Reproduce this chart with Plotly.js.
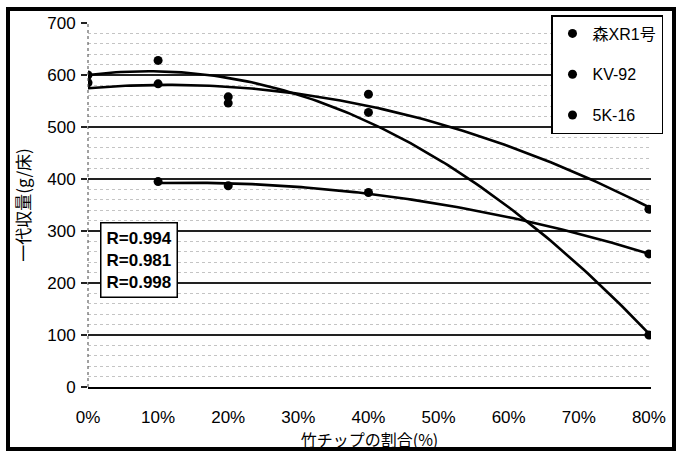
<!DOCTYPE html>
<html>
<head>
<meta charset="utf-8">
<script src="https://cdn.plot.ly/plotly-3.0.1.min.js"></script>
<style>
html,body{margin:0;padding:0;background:#fff;}
#chart{width:677px;height:453px;}
</style>
</head>
<body>
<div id="chart"></div>
<script>
// ---- data ----
const seriesNames = ['森XR1号', 'KV-92', '5K-16'];
const xPctA = [0, 10, 20, 40, 80];
const yieldA = [600, 628, 558, 528, 100];
const xPctB = [0, 10, 20, 40, 80];
const yieldB = [585, 583, 546, 563, 342];
const xPctC = [10, 20, 40, 80];
const yieldC = [395, 387, 374, 256];
const rLabels = ['R=0.994', 'R=0.981', 'R=0.998'];
const xTickVals = [0, 10, 20, 30, 40, 50, 60, 70, 80];
const xTickText = ['0%', '10%', '20%', '30%', '40%', '50%', '60%', '70%', '80%'];
const yTickVals = [0, 100, 200, 300, 400, 500, 600, 700];

// least-squares polynomial trendline (as Excel draws)
function polyfit(xs, ys, order) {
  const n = order + 1;
  const A = [];
  for (let i = 0; i < n; i++) {
    A.push(new Array(n + 1).fill(0));
    for (let j = 0; j < n; j++) {
      let s = 0;
      for (let k = 0; k < xs.length; k++) s += Math.pow(xs[k], i + j);
      A[i][j] = s;
    }
    let s = 0;
    for (let k = 0; k < xs.length; k++) s += ys[k] * Math.pow(xs[k], i);
    A[i][n] = s;
  }
  for (let c = 0; c < n; c++) {
    let p = c;
    for (let r = c + 1; r < n; r++) if (Math.abs(A[r][c]) > Math.abs(A[p][c])) p = r;
    [A[c], A[p]] = [A[p], A[c]];
    for (let r = 0; r < n; r++) {
      if (r === c) continue;
      const f = A[r][c] / A[c][c];
      for (let k = c; k <= n; k++) A[r][k] -= f * A[c][k];
    }
  }
  return A.map((row, i) => row[n] / row[i]);
}
function trend(xs, ys) {
  const co = polyfit(xs, ys, 2);
  const x0 = Math.min(...xs), x1 = Math.max(...xs);
  const tx = [], ty = [];
  for (let i = 0; i <= 120; i++) {
    const x = x0 + (x1 - x0) * i / 120;
    tx.push(x);
    ty.push(co.reduce((s, c, k) => s + c * Math.pow(x, k), 0));
  }
  return {tx, ty};
}

const sets = [[xPctA, yieldA], [xPctB, yieldB], [xPctC, yieldC]];
const traces = [];
sets.forEach(([xs, ys], i) => {
  const t = trend(xs, ys);
  traces.push({
    x: t.tx, y: t.ty, mode: 'lines', showlegend: false, hoverinfo: 'skip',
    line: {color: '#000', width: 2.6}
  });
});
sets.forEach(([xs, ys], i) => {
  traces.push({
    x: xs, y: ys, mode: 'markers', name: seriesNames[i], legendgroup: 'g' + i,
    marker: {color: '#000', size: 9, symbol: 'circle'}
  });
});

// plot area in px
const L = 88, R = 651, T = 23, B = 387, W = 677, H = 453;
const px2x = p => (p - L) / (R - L);
const px2y = p => (B - p) / (B - T);

const FONT = 'Liberation Sans, "Noto Sans CJK JP", sans-serif';
const JFONT = '"Noto Sans CJK JP", sans-serif';

const layout = {
  width: W, height: H,
  margin: {l: L, r: W - R, t: T, b: H - B},
  paper_bgcolor: '#fff', plot_bgcolor: '#fff',
  font: {family: FONT, color: '#000'},
  showlegend: true,
  legend: {
    x: px2x(663), xanchor: 'right', y: px2y(15), yanchor: 'top',
    bgcolor: '#fff', bordercolor: '#000', borderwidth: 1.5,
    font: {size: 16, family: FONT, color: '#000'},
    traceorder: 'grouped', tracegroupgap: 17, itemwidth: 30
  },
  xaxis: {
    range: [0, 80.3], tickvals: xTickVals, ticktext: xTickText,
    showgrid: false, zeroline: false,
    showline: true, linecolor: '#000', linewidth: 1.5,
    ticks: '', ticklabelstandoff: 14, tickfont: {size: 17, family: FONT},
    title: {text: '竹チップの割合(%)', font: {size: 16, family: JFONT}, standoff: 4}
  },
  yaxis: {
    range: [0, 700], tickvals: yTickVals,
    showgrid: true, gridcolor: '#222', gridwidth: 1.2,
    zeroline: false, showline: false,
    ticks: 'outside', ticklen: 6, tickcolor: '#222', tickwidth: 1.2,
    ticklabelstandoff: 2,
    tickfont: {size: 17, family: FONT},
    minor: {dtick: 20, showgrid: true, gridcolor: '#c4c4c4', griddash: 'dot', gridwidth: 1, ticks: ''},
    title: {text: '一代収量(g/床)', font: {size: 17, family: JFONT}, standoff: 12}
  },
  shapes: [
    {type: 'line', xref: 'paper', yref: 'paper', x0: 0, x1: 0, y0: 0, y1: 1,
     line: {color: '#444', width: 1, dash: 'dot'}},
    {type: 'rect', xref: 'paper', yref: 'paper',
     x0: px2x(8), x1: px2x(674), y0: px2y(449), y1: px2y(9),
     line: {color: '#000', width: 4}}
  ],
  annotations: [
    {xref: 'paper', yref: 'paper', x: px2x(100), y: px2y(222), xanchor: 'left', yanchor: 'top',
     text: rLabels.join('<br>'), align: 'left', showarrow: false,
     font: {size: 17, family: FONT, color: '#000', weight: 'bold'},
     bgcolor: '#fff', bordercolor: '#000', borderwidth: 1.5, borderpad: 5}
  ]
};

Plotly.newPlot('chart', traces, layout, {displayModeBar: false, staticPlot: true});
</script>
</body>
</html>
